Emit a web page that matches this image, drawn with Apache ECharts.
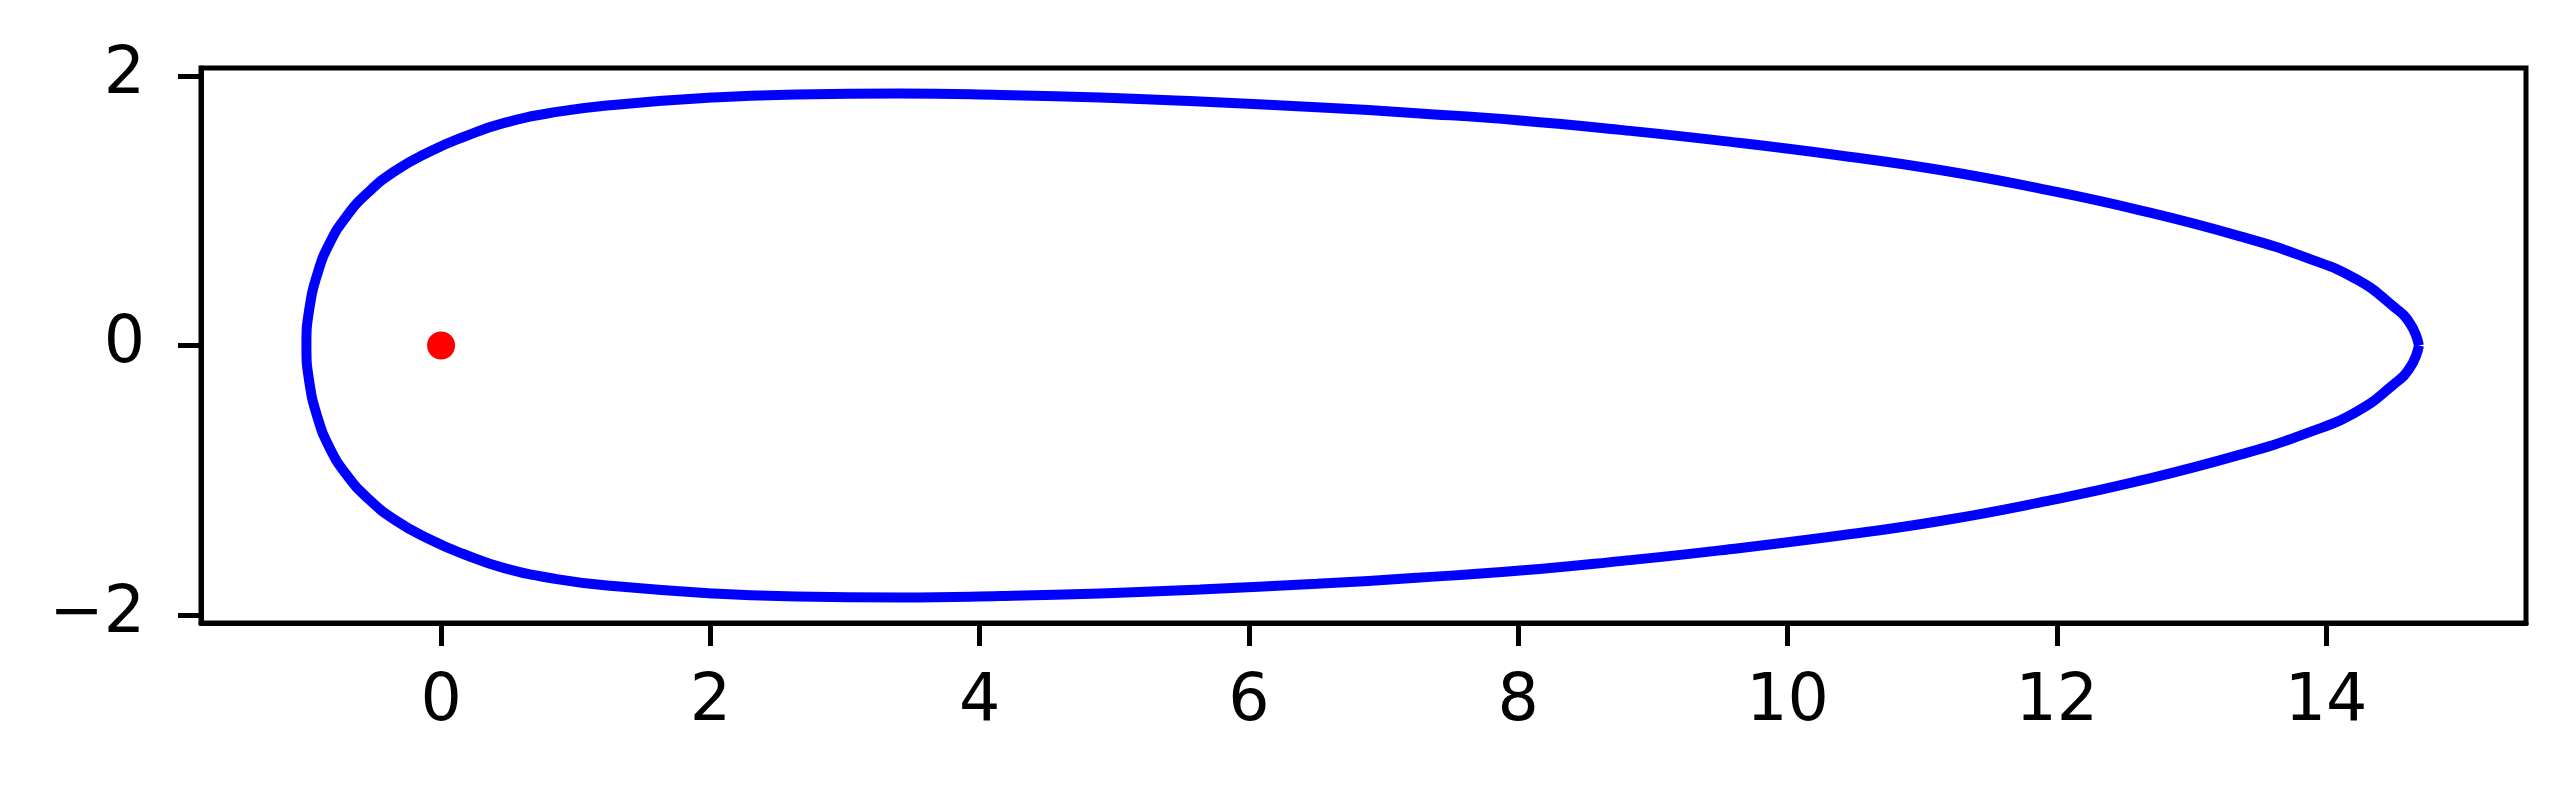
<!DOCTYPE html>
<html>
<head>
<meta charset="utf-8">
<script src="https://cdn.jsdelivr.net/npm/echarts@6/dist/echarts.min.js"></script>
<style>
  html, body { margin: 0; padding: 0; background: #fff; }
  #chart { width: 2575px; height: 789px; }
</style>
</head>
<body>
<div id="chart"></div>
<script>
// orbit, upper half (right tip -> over the top -> left end)
var upperX = [14.69, 14.625, 14.5, 14.228, 13.857, 13.362, 12.619, 11.876, 11.133, 10.39, 9.5, 8.757, 8.014, 7.271, 6.504, 5.637, 4.894, 4.152, 3.409, 2.642, 2.023, 1.28, 0.859, 0.463, 0.166, -0.082, -0.342, -0.548, -0.706, -0.829, -0.918, -0.98, -1.0];
var upperY = [0, 0.162, 0.29, 0.49, 0.65, 0.81, 1.003, 1.164, 1.302, 1.41, 1.52, 1.6, 1.67, 1.722, 1.768, 1.81, 1.84, 1.859, 1.869, 1.862, 1.84, 1.785, 1.733, 1.65, 1.547, 1.44, 1.295, 1.13, 0.954, 0.756, 0.533, 0.261, 0];
// lower half (left end -> under the bottom -> right tip)
var lowerX = [-0.98, -0.918, -0.829, -0.706, -0.548, -0.342, -0.082, 0.166, 0.463, 0.859, 1.28, 2.023, 2.642, 3.409, 4.152, 4.894, 5.637, 6.504, 7.271, 8.014, 8.757, 9.5, 10.39, 11.133, 11.876, 12.619, 13.362, 13.857, 14.228, 14.5, 14.625, 14.69];
var lowerY = [-0.261, -0.533, -0.756, -0.954, -1.13, -1.295, -1.44, -1.547, -1.65, -1.733, -1.785, -1.84, -1.862, -1.869, -1.859, -1.84, -1.81, -1.768, -1.722, -1.67, -1.6, -1.52, -1.41, -1.302, -1.164, -1.003, -0.81, -0.65, -0.49, -0.29, -0.162, 0];
// central body
var centerX = [0];
var centerY = [0];

var xTicks = [0, 2, 4, 6, 8, 10, 12, 14];
var yTicks = [-2, 0, 2];

var orbit = [];
upperX.forEach(function (x, i) { orbit.push([x, upperY[i]]); });
lowerX.forEach(function (x, i) { orbit.push([x, lowerY[i]]); });
var center = centerX.map(function (x, i) { return [x, centerY[i]]; });

function fmt(v) { return String(v).replace('-', '\u2212'); }

var labelStyle = { color: '#000', fontSize: 65, fontFamily: 'DejaVu Sans' };

var myChart = echarts.init(document.getElementById('chart'));
myChart.setOption({
  animation: false,
  backgroundColor: '#fff',
  grid: {
    left: 201, right: 49, top: 68, bottom: 166,
    show: true, borderColor: '#000', borderWidth: 5, backgroundColor: 'transparent'
  },
  xAxis: {
    type: 'value',
    min: -1.783,
    max: 15.485,
    splitLine: { show: false },
    axisLine: { show: true, onZero: false, lineStyle: { color: '#000', width: 5 } },
    axisTick: { show: true, customValues: xTicks, length: 23, lineStyle: { color: '#000', width: 5 } },
    axisLabel: Object.assign({ customValues: xTicks, margin: 48, formatter: fmt }, labelStyle)
  },
  yAxis: {
    type: 'value',
    min: -2.059,
    max: 2.059,
    splitLine: { show: false },
    axisLine: { show: true, onZero: false, lineStyle: { color: '#000', width: 5 } },
    axisTick: { show: true, customValues: yTicks, length: 23, lineStyle: { color: '#000', width: 5 } },
    axisLabel: Object.assign({ customValues: yTicks, margin: 56, formatter: fmt }, labelStyle)
  },
  series: [
    {
      type: 'line',
      data: orbit,
      smooth: 0.5,
      showSymbol: false,
      lineStyle: { color: '#0000ff', width: 10 }
    },
    {
      type: 'scatter',
      data: center,
      symbolSize: 28,
      itemStyle: { color: '#ff0000', opacity: 1 }
    }
  ]
});
</script>
</body>
</html>
